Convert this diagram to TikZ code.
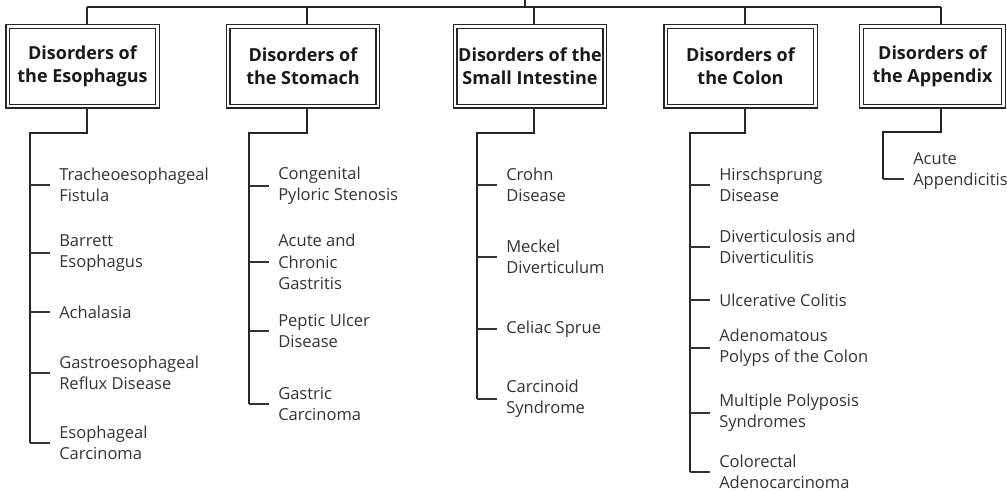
\documentclass[tikz,border=0pt]{standalone}
\usepackage{fontspec}
\setmainfont{Open Sans}
\usetikzlibrary{positioning}

\begin{document}
\begin{tikzpicture}[x=0.75pt, y=-0.75pt,
  % --- Style definitions ---
  group/.style={draw=black!85, line width=0.8pt, fill=white,
                minimum width=109.5pt, minimum height=57pt, inner sep=0pt,
                align=center, font=\bfseries\fontsize{13.5}{17.25}\selectfont, text=black!90},
  frame/.style={draw=black!85, line width=0.8pt},
  item/.style={anchor=west, align=left, inner xsep=6.75pt, inner ysep=0pt,
               font=\fontsize{12.4}{16}\selectfont, text=black!80},
  link/.style={draw=black!85, line width=1pt},
  tick/.style={draw=black!80, line width=0.8pt},
]

\useasboundingbox (0,0) rectangle (1007,491);

% ===== Group boxes =====
\node[group] (esoph) at (82.5,66.5) {Disorders of\\the Esophagus};
\node[group] (stom)  at (303,66.5)  {Disorders of\\the Stomach};
\node[group] (intes) at (530,66.5)  {Disorders of the\\Small Intestine};
\node[group] (colon) at (740.5,66.5) {Disorders of\\the Colon};
\node[group, minimum width=104pt] (appx) at (932.5,66.5) {Disorders of\\the Appendix};

% outer line of the double frame
\foreach \g in {esoph,stom,intes,colon,appx}
  \draw[frame] ([xshift=-2.25pt, yshift=2.25pt]\g.north west) rectangle
               ([xshift=2.25pt, yshift=-2.25pt]\g.south east);

% ===== Items =====

% --- Esophagus ---
\node[item] (e1) at (50,185) {Tracheoesophageal\\Fistula};
\node[item] (e2) at (50,253) {Barrett\\Esophagus};
\node[item] (e3) at (50,312) {Achalasia};
\node[item] (e4) at (50,373) {Gastroesophageal\\Reflux Disease};
\node[item] (e5) at (50,443) {Esophageal\\Carcinoma};

% --- Stomach ---
\node[item] (s1) at (269,186) {Congenital\\Pyloric Stenosis};
\node[item] (s2) at (269,262) {Acute and\\Chronic\\Gastritis};
\node[item] (s3) at (269,331) {Peptic Ulcer\\Disease};
\node[item] (s4) at (269,404) {Gastric\\Carcinoma};

% --- Small intestine ---
\node[item] (i1) at (497,185) {Crohn\\Disease};
\node[item] (i2) at (497,257) {Meckel\\Diverticulum};
\node[item] (i3) at (497,329) {Celiac Sprue};
\node[item] (i4) at (497,399) {Carcinoid\\Syndrome};

% --- Colon ---
\node[item] (c1) at (710,185) {Hirschsprung\\Disease};
\node[item] (c2) at (710,247) {Diverticulosis and\\Diverticulitis};
\node[item] (c3) at (710,300) {Ulcerative Colitis};
\node[item] (c4) at (710,348) {Adenomatous\\Polyps of the Colon};
\node[item] (c5) at (710,413) {Multiple Polyposis\\Syndromes};
\node[item] (c6) at (710,472) {Colorectal\\Adenocarcinoma};

% --- Appendix ---
\node[item] (a1) at (904,171) {Acute\\Appendicitis};

% ===== Top bus =====
\coordinate (root) at (525,0);
\coordinate (eTop) at (87,7);
\coordinate (sTop) at (307,7);
\coordinate (iTop) at (534,7);
\coordinate (cTop) at (745,7);
\coordinate (aTop) at (941,7);

\draw[link] (eTop) -- (aTop);
\draw[link] (root) -- (root |- eTop);
\draw[link] (eTop) -- ([yshift=2.25pt]eTop |- esoph.north);
\draw[link] (sTop) -- ([yshift=2.25pt]sTop |- stom.north);
\draw[link] (iTop) -- ([yshift=2.25pt]iTop |- intes.north);
\draw[link] (cTop) -- ([yshift=2.25pt]cTop |- colon.north);
\draw[link] (aTop) -- ([yshift=2.25pt]aTop |- appx.north);

% ===== Spines =====
\coordinate (eSp) at (30,133);
\coordinate (sSp) at (249,133);
\coordinate (iSp) at (477,133);
\coordinate (cSp) at (690,133);
\coordinate (aSp) at (883,132);

\draw[link] ([yshift=-2.25pt]eTop |- esoph.south) |- (eSp) -- (eSp |- e5.west);
\draw[link] ([yshift=-2.25pt]sTop |- stom.south) |- (sSp) -- (sSp |- s4.west);
\draw[link] ([yshift=-2.25pt]iTop |- intes.south) |- (iSp) -- (iSp |- i4.west);
\draw[link] ([yshift=-2.25pt]cTop |- colon.south) |- (cSp) -- (cSp |- c6.west);
\draw[link] ([yshift=-2.25pt]aTop |- appx.south) |- (aSp) -- ([yshift=-6pt]aSp |- a1.west);

% ===== Ticks =====
\draw[tick] (eSp |- e1.west) -- (e1.west)
            (eSp |- e2.west) -- (e2.west)
            (eSp |- e3.west) -- (e3.west)
            (eSp |- e4.west) -- (e4.west)
            (eSp |- e5.west) -- (e5.west);
\draw[tick] (sSp |- s1.west) -- (s1.west)
            (sSp |- s2.west) -- (s2.west)
            (sSp |- s3.west) -- (s3.west)
            (sSp |- s4.west) -- (s4.west);
\draw[tick] (iSp |- i1.west) -- (i1.west)
            (iSp |- i2.west) -- (i2.west)
            (iSp |- i3.west) -- (i3.west)
            (iSp |- i4.west) -- (i4.west);
\draw[tick] (cSp |- c1.west) -- (c1.west)
            (cSp |- c2.west) -- (c2.west)
            (cSp |- c3.west) -- (c3.west)
            (cSp |- c4.west) -- (c4.west)
            (cSp |- c5.west) -- (c5.west)
            (cSp |- c6.west) -- (c6.west);
\draw[tick] ([yshift=-6pt]aSp |- a1.west) -- ([yshift=-6pt]a1.west);

\end{tikzpicture}
\end{document}
